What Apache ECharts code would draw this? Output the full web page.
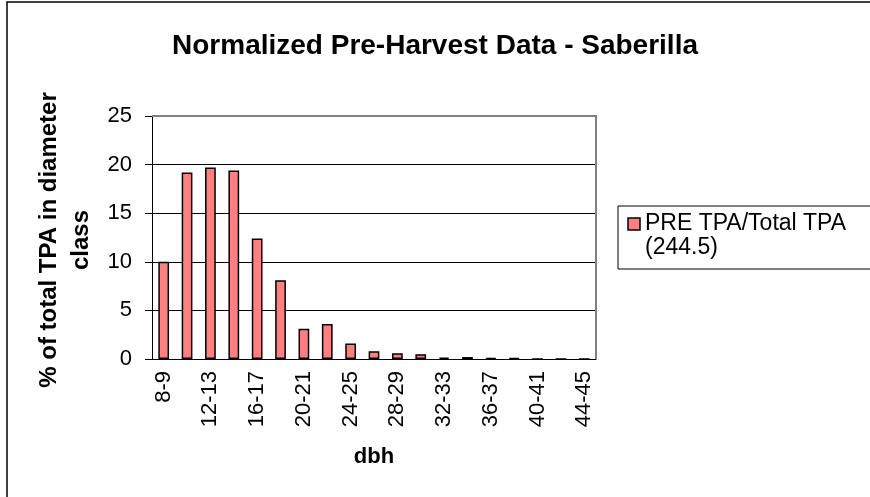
<!DOCTYPE html>
<html>
<head>
<meta charset="utf-8">
<title>Normalized Pre-Harvest Data - Saberilla</title>
<script src="https://cdn.jsdelivr.net/npm/echarts@6/dist/echarts.min.js"></script>
<style>
    html, body { margin: 0; padding: 0; background: #fff; }
    #chart { width: 870px; height: 497px; }
</style>
</head>
<body>
<div id="chart"></div>
<script>
// data
const categories = ['8-9', '10-11', '12-13', '14-15', '16-17', '18-19', '20-21', '22-23', '24-25', '26-27',
    '28-29', '30-31', '32-33', '34-35', '36-37', '38-39', '40-41', '42-43', '44-45'];
const preTpa = [10.0, 19.2, 19.7, 19.4, 12.4, 8.1, 3.1, 3.6, 1.6, 0.8,
    0.6, 0.5, 0.15, 0.2, 0.08, 0.08, 0, 0, 0];
const seriesName = 'PRE TPA/Total TPA\n(244.5)';
const yTicks = [0, 5, 10, 15, 20, 25];

(function () {
    const myChart = echarts.init(document.getElementById('chart'));
    const font = 'Liberation Sans, Arial, sans-serif';
    const barColor = '#FF8080';
    const option = {
        animation: false,
        textStyle: { fontFamily: font, color: '#000' },
        title: {
            text: 'Normalized Pre-Harvest Data - Saberilla',
            left: 'center',
            top: 27,
            textStyle: { fontSize: 28, fontWeight: 'bold', color: '#000', fontFamily: font }
        },
        grid: {
            left: 152,
            right: 274,
            top: 116,
            bottom: 138
        },
        xAxis: {
            type: 'category',
            data: categories,
            name: 'dbh',
            nameLocation: 'middle',
            nameGap: 87,
            nameTextStyle: { fontSize: 22, fontWeight: 'bold', color: '#000' },
            axisLine: { lineStyle: { color: '#000', width: 1 } },
            axisTick: { interval: 0, length: 7, lineStyle: { color: '#000' } },
            axisLabel: {
                rotate: 90,
                interval: 1,
                margin: 12,
                fontSize: 22,
                color: '#000'
            }
        },
        yAxis: {
            type: 'value',
            min: yTicks[0],
            max: yTicks[yTicks.length - 1],
            interval: 5,
            axisLine: { show: true, lineStyle: { color: '#000', width: 1 } },
            axisTick: { show: true, length: 7, lineStyle: { color: '#000' } },
            axisLabel: { fontSize: 22, margin: 20, color: '#000' },
            splitLine: { lineStyle: { color: '#000', width: 1 } }
        },
        graphic: [
            // outer chart frame
            {
                type: 'rect',
                shape: { x: 7, y: 2, width: 900, height: 600 },
                style: { fill: 'none', stroke: '#000', lineWidth: 1.5 },
                silent: true
            },
            // gray plot border top / right
            {
                type: 'polyline',
                shape: { points: [[152, 116], [596, 116], [596, 359]] },
                style: { fill: 'none', stroke: '#808080', lineWidth: 2 },
                z: 100,
                silent: true
            },
            // y axis title
            {
                type: 'text',
                x: 65,
                y: 240,
                rotation: Math.PI / 2,
                style: {
                    text: '% of total TPA in diameter\nclass',
                    font: 'bold 24px ' + font,
                    lineHeight: 32,
                    align: 'center',
                    verticalAlign: 'middle',
                    fill: '#000'
                }
            },
            // legend
            {
                type: 'rect',
                shape: { x: 618, y: 206, width: 260, height: 63 },
                style: { fill: '#fff', stroke: '#000', lineWidth: 1 }
            },
            {
                type: 'rect',
                shape: { x: 628, y: 218, width: 12, height: 12 },
                style: { fill: barColor, stroke: '#000', lineWidth: 1.5 }
            },
            {
                type: 'text',
                x: 645,
                y: 212,
                style: {
                    text: seriesName,
                    font: '23px ' + font,
                    lineHeight: 24,
                    align: 'left',
                    verticalAlign: 'top',
                    fill: '#000'
                }
            }
        ],
        series: [
            {
                name: seriesName,
                type: 'bar',
                barWidth: '46%',
                itemStyle: {
                    color: barColor,
                    borderColor: '#000',
                    borderWidth: 1.5
                },
                data: preTpa
            }
        ]
    };
    myChart.setOption(option);
    window.addEventListener('resize', () => {
        myChart.resize();
    })
})();
</script>
</body>
</html>
